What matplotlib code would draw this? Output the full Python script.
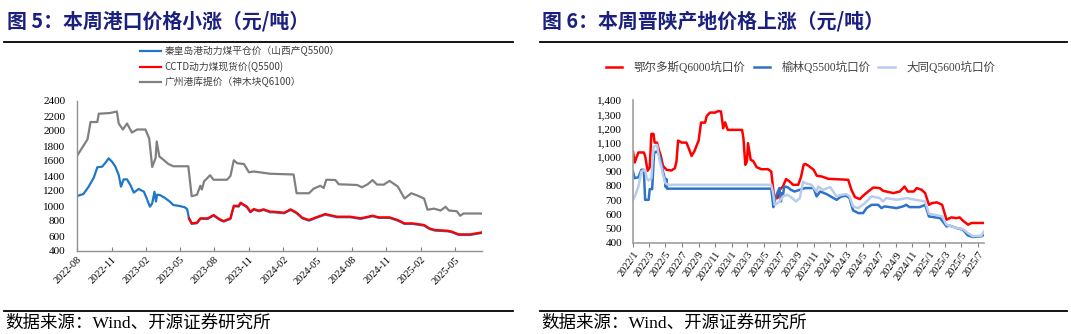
import numpy as np
import matplotlib
matplotlib.use("Agg")
import matplotlib.pyplot as plt
import matplotlib.dates as mdates
import matplotlib.ticker as mticker
import pandas as pd

# ---- Figure 5: port prices ----
qhd_dates = ["2022-08-01", "2022-08-18", "2022-09-01", "2022-09-15", "2022-09-24", "2022-10-07",
             "2022-10-18", "2022-10-24", "2022-11-02", "2022-11-11", "2022-11-20", "2022-11-26",
             "2022-12-03", "2022-12-12", "2022-12-21", "2022-12-30", "2023-01-12", "2023-01-26",
             "2023-02-04", "2023-02-11", "2023-02-17", "2023-02-23", "2023-02-27", "2023-03-02",
             "2023-03-09", "2023-03-22", "2023-04-05", "2023-04-14", "2023-05-01", "2023-05-15",
             "2023-05-21", "2023-05-26", "2023-06-02", "2023-06-16", "2023-06-25", "2023-07-15",
             "2023-07-30", "2023-08-16", "2023-08-26", "2023-09-13", "2023-09-22", "2023-10-05",
             "2023-10-10", "2023-10-27", "2023-11-05", "2023-11-14", "2023-11-28", "2023-12-10",
             "2023-12-28", "2024-01-06", "2024-02-03", "2024-02-20", "2024-03-07", "2024-03-22",
             "2024-04-09", "2024-04-25", "2024-05-22", "2024-06-22", "2024-07-28", "2024-08-24",
             "2024-09-25", "2024-10-12", "2024-11-09", "2024-12-01", "2024-12-19", "2025-01-09",
             "2025-02-09", "2025-02-23", "2025-03-10", "2025-04-12", "2025-04-24", "2025-05-12",
             "2025-06-12", "2025-07-13"]
qhd_vals = [1133, 1160, 1258, 1382, 1516, 1525,
            1591, 1636, 1591, 1525, 1413, 1258,
            1355, 1355, 1280, 1178, 1227, 1190,
            1080, 991, 1036, 1190, 1060, 1150,
            1147, 1111, 1058, 1013, 1000, 982,
            956, 830, 762, 770, 828, 828,
            872, 814, 792, 828, 996, 992,
            1036, 983, 916, 952, 930, 948,
            916, 916, 903, 948, 903, 836,
            805, 836, 885, 850, 850, 828,
            863, 841, 841, 805, 761, 761,
            739, 694, 672, 663, 650, 614,
            614, 641]

cctd_dates = ["2023-05-26", "2023-06-02", "2023-06-16", "2023-06-25", "2023-07-15", "2023-07-30",
              "2023-08-16", "2023-08-26", "2023-09-13", "2023-09-22", "2023-10-05", "2023-10-10",
              "2023-10-27", "2023-11-05", "2023-11-14", "2023-11-28", "2023-12-10", "2023-12-28",
              "2024-01-06", "2024-02-03", "2024-02-20", "2024-03-07", "2024-03-22", "2024-04-09",
              "2024-04-25", "2024-05-22", "2024-06-22", "2024-07-28", "2024-08-24", "2024-09-25",
              "2024-10-12", "2024-11-09", "2024-12-01", "2024-12-19", "2025-01-09", "2025-02-09",
              "2025-02-23", "2025-03-10", "2025-04-12", "2025-04-24", "2025-05-12", "2025-06-12",
              "2025-07-13"]
cctd_vals = [836, 769, 778, 836, 836, 880,
             822, 800, 836, 1004, 1000, 1044,
             991, 924, 960, 938, 956, 924,
             924, 911, 956, 911, 844, 813,
             844, 893, 858, 858, 836, 871,
             849, 849, 813, 769, 769, 747,
             702, 680, 671, 658, 622, 622,
             649]

gz_dates = ["2022-08-01", "2022-08-29", "2022-09-06", "2022-09-24", "2022-09-28", "2022-10-28",
            "2022-11-15", "2022-11-20", "2022-12-01", "2022-12-12", "2022-12-25", "2023-01-08",
            "2023-01-30", "2023-02-09", "2023-02-17", "2023-02-26", "2023-03-01", "2023-03-08",
            "2023-03-18", "2023-04-01", "2023-04-14", "2023-05-24", "2023-06-02", "2023-06-16",
            "2023-06-25", "2023-06-29", "2023-07-05", "2023-07-21", "2023-07-30", "2023-09-04",
            "2023-09-13", "2023-09-22", "2023-10-01", "2023-10-19", "2023-11-01", "2023-11-14",
            "2023-12-28", "2024-02-28", "2024-03-07", "2024-04-09", "2024-04-21", "2024-05-09",
            "2024-05-18", "2024-05-25", "2024-06-18", "2024-06-27", "2024-08-15", "2024-08-28",
            "2024-09-12", "2024-09-25", "2024-10-07", "2024-10-25", "2024-11-09", "2024-12-01",
            "2024-12-19", "2025-01-06", "2025-01-22", "2025-02-09", "2025-02-18", "2025-03-07",
            "2025-03-25", "2025-04-07", "2025-04-16", "2025-05-07", "2025-05-16", "2025-05-25",
            "2025-07-13"]
gz_vals = [1667, 1890, 2120, 2120, 2230, 2240,
           2260, 2100, 2020, 2100, 1980, 2020,
           2020, 1900, 1520, 1640, 1860, 1660,
           1620, 1560, 1530, 1530, 1130, 1150,
           1270, 1220, 1330, 1410, 1350, 1350,
           1400, 1610, 1570, 1560, 1450, 1460,
           1430, 1420, 1170, 1170, 1230, 1270,
           1240, 1350, 1347, 1290, 1280, 1250,
           1290, 1345, 1285, 1285, 1335, 1260,
           1100, 1170, 1140, 1100, 950, 965,
           940, 990, 940, 930, 870, 900,
           900]

# ---- Figure 6: mine-mouth prices ----
eeds_dates = ["2022-01-01", "2022-01-07", "2022-01-13", "2022-01-21", "2022-02-10", "2022-02-15",
              "2022-02-24", "2022-03-04", "2022-03-10", "2022-03-18", "2022-03-22", "2022-03-31",
              "2022-04-06", "2022-04-14", "2022-04-22", "2022-05-05", "2022-05-23", "2022-06-05",
              "2022-06-11", "2022-06-17", "2022-07-01", "2022-07-18", "2022-07-31", "2022-08-06",
              "2022-08-16", "2022-09-01", "2022-09-10", "2022-09-25", "2022-10-01", "2022-10-13",
              "2022-11-01", "2022-11-13", "2022-11-23", "2022-12-01", "2022-12-08", "2022-12-18",
              "2023-01-02", "2023-02-09", "2023-02-14", "2023-02-21", "2023-02-27", "2023-03-03",
              "2023-03-13", "2023-03-22", "2023-04-04", "2023-04-22", "2023-05-16", "2023-05-28",
              "2023-06-08", "2023-06-20", "2023-06-28", "2023-07-10", "2023-07-22", "2023-08-04",
              "2023-08-17", "2023-09-05", "2023-09-15", "2023-09-25", "2023-10-01", "2023-10-13",
              "2023-11-01", "2023-11-13", "2023-12-01", "2023-12-25", "2024-03-08", "2024-03-20",
              "2024-04-02", "2024-04-20", "2024-05-02", "2024-05-21", "2024-06-09", "2024-07-03",
              "2024-07-15", "2024-08-22", "2024-09-15", "2024-10-03", "2024-10-15", "2024-11-06",
              "2024-11-17", "2024-12-05", "2024-12-18", "2025-01-01", "2025-01-12", "2025-01-31",
              "2025-02-19", "2025-03-07", "2025-03-25", "2025-04-13", "2025-04-25", "2025-05-07",
              "2025-05-26", "2025-06-08", "2025-07-09", "2025-07-24"]
eeds_vals = [1040, 963, 993, 1033, 1033, 1009,
             905, 928, 1163, 1163, 1102, 1102,
             1056, 1009, 940, 912, 907, 923,
             970, 1116, 1102, 1102, 1040, 1009,
             1040, 1116, 1242, 1242, 1288, 1312,
             1312, 1323, 1319, 1202, 1244, 1191,
             1191, 1191, 1133, 947, 970, 1098,
             981, 974, 930, 916, 916, 900,
             714, 714, 772, 795, 847, 830,
             807, 807, 860, 947, 953, 940,
             912, 870, 865, 849, 842, 772,
             721, 707, 730, 760, 788, 784,
             765, 749, 760, 795, 760, 760,
             784, 772, 749, 667, 679, 684,
             667, 563, 579, 574, 579, 556,
             528, 540, 540, 540]

yl_dates = ["2022-01-01", "2022-01-07", "2022-01-21", "2022-02-01", "2022-02-10", "2022-02-15",
            "2022-02-28", "2022-03-04", "2022-03-13", "2022-03-20", "2022-03-28", "2022-04-06",
            "2022-04-14", "2022-04-22", "2022-04-29", "2022-05-02", "2022-05-05", "2022-05-07",
            "2023-05-28", "2023-06-05", "2023-06-10", "2023-06-14", "2023-06-27", "2023-07-03",
            "2023-07-06", "2023-07-10", "2023-07-15", "2023-07-27", "2023-08-09", "2023-08-22",
            "2023-09-11", "2023-09-30", "2023-11-01", "2023-11-12", "2023-11-25", "2023-12-19",
            "2024-01-25", "2024-02-12", "2024-03-01", "2024-03-13", "2024-03-26", "2024-04-15",
            "2024-05-02", "2024-05-15", "2024-06-03", "2024-06-27", "2024-07-09", "2024-07-21",
            "2024-09-03", "2024-09-27", "2024-10-09", "2024-10-21", "2024-11-28", "2024-12-18",
            "2025-01-01", "2025-02-12", "2025-03-07", "2025-03-19", "2025-04-13", "2025-05-07",
            "2025-05-25", "2025-06-13", "2025-07-14", "2025-07-24"]
yl_vals = [900, 853, 860, 912, 912, 702,
           702, 777, 777, 1028, 1040, 1028,
           981, 900, 847, 791, 847, 780,
           780, 651, 691, 726, 784, 691,
           749, 726, 795, 791, 772, 760,
           772, 784, 784, 726, 760, 742,
           702, 726, 730, 714, 628, 609,
           609, 644, 667, 667, 644, 656,
           644, 656, 667, 651, 651, 667,
           586, 574, 516, 521, 505, 493,
           453, 442, 447, 458]

dt_dates = ["2022-01-01", "2022-01-09", "2022-01-21", "2022-02-01", "2022-02-15", "2022-02-21",
            "2022-02-28", "2022-03-10", "2022-03-18", "2022-03-31", "2022-04-09", "2022-04-16",
            "2022-04-22", "2022-05-01", "2022-05-11", "2023-05-28", "2023-06-04", "2023-06-10",
            "2023-06-20", "2023-06-28", "2023-07-10", "2023-07-27", "2023-08-09", "2023-08-28",
            "2023-09-11", "2023-09-23", "2023-09-30", "2023-10-24", "2023-11-12", "2023-11-18",
            "2023-12-06", "2024-01-01", "2024-01-25", "2024-02-12", "2024-03-01", "2024-03-13",
            "2024-03-26", "2024-04-15", "2024-05-09", "2024-06-03", "2024-07-03", "2024-07-15",
            "2024-07-27", "2024-09-03", "2024-10-12", "2024-11-12", "2024-12-18", "2025-01-01",
            "2025-02-19", "2025-03-07", "2025-03-25", "2025-04-13", "2025-05-07", "2025-05-25",
            "2025-06-13", "2025-07-14", "2025-07-24"]
dt_vals = [702, 730, 795, 900, 912, 853,
           837, 853, 1074, 1086, 981, 935,
           877, 819, 807, 807, 749, 667,
           679, 691, 726, 737, 721, 691,
           714, 830, 819, 807, 760, 795,
           772, 791, 726, 737, 742, 726,
           656, 644, 679, 726, 714, 691,
           714, 702, 714, 702, 691, 605,
           586, 528, 516, 505, 498, 470,
           447, 451, 481]

TITLE_COLOR = "#1B1F7E"
SERIF = ["Liberation Serif", "Noto Sans CJK SC"]
CJK = ["Noto Sans CJK SC", "DejaVu Sans"]
plt.rcParams["font.family"] = SERIF

fig = plt.figure(figsize=(10.71, 3.34), dpi=100)

# titles, rules, source notes
fig.text(7 / 1071, 1 - 21 / 334, "图 5：本周港口价格小涨（元/吨）", fontsize=14.3,
         fontweight="bold", color=TITLE_COLOR, family=CJK, va="center", ha="left")
fig.text(542 / 1071, 1 - 21 / 334, "图 6：本周晋陕产地价格上涨（元/吨）", fontsize=14.3,
         fontweight="bold", color=TITLE_COLOR, family=CJK, va="center", ha="left")
for x0, x1 in [(4, 513), (540, 1067)]:
    fig.add_artist(plt.Line2D([x0 / 1071, x1 / 1071], [1 - 41.5 / 334] * 2, color="black", lw=1.3))
    fig.add_artist(plt.Line2D([x0 / 1071, x1 / 1071], [1 - 310.5 / 334] * 2, color="black", lw=1.3))
    fig.text((x0 + 1) / 1071, 1 - 324 / 334, "数据来源：Wind、开源证券研究所", fontsize=12.6,
             family=SERIF, va="center", ha="left", color="black")

# ---- left chart ----
ax1 = fig.add_axes([77 / 1071, 1 - 251 / 334, 405 / 1071, 150 / 334])
ax1.plot(pd.to_datetime(qhd_dates), qhd_vals, color="#1F77C8", lw=1.6,
         label="秦皇岛港动力煤平仓价（山西产Q5500）")
ax1.plot(pd.to_datetime(cctd_dates), cctd_vals, color="#FF0000", lw=1.6,
         label="CCTD动力煤现货价(Q5500)")
ax1.plot(pd.to_datetime(gz_dates), gz_vals, color="#808080", lw=1.6,
         label="广州港库提价（神木块Q6100）")
ax1.set_xlim(pd.Timestamp("2022-08-01"), pd.Timestamp("2025-07-13"))
ax1.set_ylim(400, 2400)
ax1.yaxis.set_major_locator(mticker.MultipleLocator(200))
ax1.xaxis.set_major_locator(mdates.MonthLocator(bymonth=[2, 5, 8, 11]))
ax1.xaxis.set_major_formatter(mdates.DateFormatter("%Y-%m"))
ax1.tick_params(axis="x", direction="in", length=3, color="#808080", labelsize=7.5, pad=3)
ax1.tick_params(axis="y", length=0, labelsize=8, pad=8.5)
for lab in ax1.get_xticklabels():
    lab.set_rotation(45)
    lab.set_ha("right")
    lab.set_rotation_mode("anchor")
for s in ["top", "right"]:
    ax1.spines[s].set_visible(False)
for s in ["left", "bottom"]:
    ax1.spines[s].set_color("#909090")
    ax1.spines[s].set_linewidth(1.0)
leg1 = ax1.legend(loc="upper left", bbox_to_anchor=(140 / 1071, 1 - 46 / 334),
                  bbox_transform=fig.transFigure, frameon=False, prop={"family": CJK, "size": 7},
                  handlelength=2.2, handletextpad=0.3, labelspacing=0.5, borderpad=0,
                  borderaxespad=0)
for t in leg1.get_texts():
    t.set_color("#404040")

# ---- right chart ----
ax2 = fig.add_axes([633 / 1071, 1 - 243 / 334, 351 / 1071, 143 / 334])
ax2.plot(pd.to_datetime(eeds_dates), eeds_vals, color="#FF0000", lw=1.8, label="鄂尔多斯Q6000坑口价")
ax2.plot(pd.to_datetime(yl_dates), yl_vals, color="#2F72C9", lw=1.8, label="榆林Q5500坑口价")
ax2.plot(pd.to_datetime(dt_dates), dt_vals, color="#B7CDEB", lw=1.8, label="大同Q5600坑口价")
ax2.set_xlim(pd.Timestamp("2022-01-01"), pd.Timestamp("2025-07-24"))
ax2.set_ylim(400, 1400)
ax2.yaxis.set_major_locator(mticker.MultipleLocator(100))
ax2.yaxis.set_major_formatter(mticker.FuncFormatter(lambda v, p: f"{int(v):,}"))
ax2.xaxis.set_major_locator(mdates.MonthLocator(bymonth=[1, 3, 5, 7, 9, 11]))
ax2.xaxis.set_major_formatter(mticker.FuncFormatter(
    lambda v, p: f"{mdates.num2date(v).year}/{mdates.num2date(v).month}"))
ax2.tick_params(axis="x", direction="out", length=3, color="#808080", labelsize=7.5, pad=2)
ax2.tick_params(axis="y", length=0, labelsize=8, pad=8)
for lab in ax2.get_xticklabels():
    lab.set_rotation(55)
    lab.set_ha("right")
    lab.set_rotation_mode("anchor")
for s in ["top", "right"]:
    ax2.spines[s].set_visible(False)
for s in ["left", "bottom"]:
    ax2.spines[s].set_color("#A0A0A0")
    ax2.spines[s].set_linewidth(1.2)
leg2 = ax2.legend(loc="center left", bbox_to_anchor=(606 / 1071, 1 - 68 / 334),
                  bbox_transform=fig.transFigure, frameon=False, ncol=3,
                  prop={"family": SERIF, "size": 8.3}, handlelength=1.4, handletextpad=1.0,
                  columnspacing=0.7, borderpad=0, borderaxespad=0)
for t in leg2.get_texts():
    t.set_color("#404040")

fig.savefig("out.png", dpi=100)
